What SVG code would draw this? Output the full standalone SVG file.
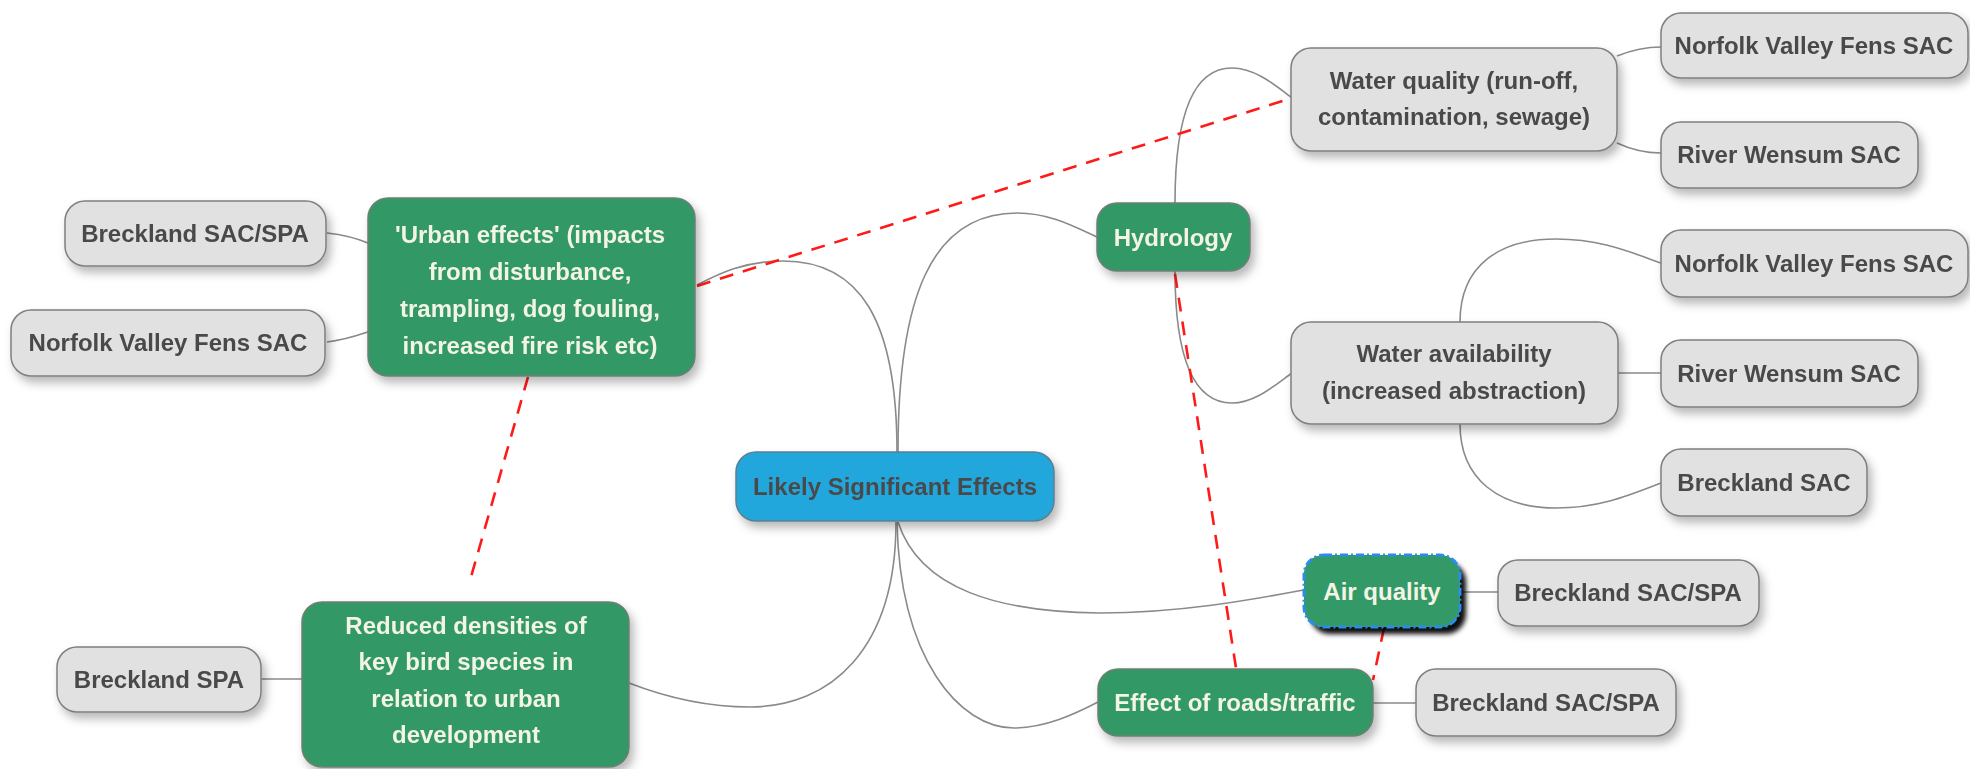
<svg xmlns="http://www.w3.org/2000/svg" width="1970" height="769" viewBox="0 0 1970 769">
<style>
.t{font-family:"Liberation Sans",Arial,sans-serif;font-weight:bold;font-size:24px;text-anchor:middle}
.g rect{fill:#e1e1e1;stroke:#7f7f7f;stroke-width:1.5}
.g text{fill:#4a4a4a}
.gr rect{fill:#339966;stroke:#6f7f74;stroke-width:1.5}
.gr text{fill:#f3f3e6}
.bl rect{fill:#22a7dd;stroke:#5f7f8f;stroke-width:1.5}
.bl text{fill:#4a4a4a}
.c{fill:none;stroke:#8a8a8a;stroke-width:1.6}
.r{fill:none;stroke:#ff1a1a;stroke-width:2.6;stroke-dasharray:14 10}
</style>
<defs>
<filter id="sh" x="-20%" y="-20%" width="140%" height="150%">
<feDropShadow dx="4" dy="6" stdDeviation="5" flood-color="#000" flood-opacity="0.28"/>
</filter>
<filter id="hs" x="-20%" y="-20%" width="140%" height="150%">
<feDropShadow dx="6" dy="7" stdDeviation="2.5" flood-color="#000" flood-opacity="0.95"/>
</filter>
</defs>
<rect width="1970" height="769" fill="#ffffff"/>
<g id="connectors">
<path class="c" d="M897 452 C897 320 860 261 783 261 C745 261 720 273 697 285"/>
<path class="c" d="M898 452 C898 300 930 213 1017 213 C1050 213 1075 227 1097 237"/>
<path class="c" d="M896 522 C896 650 830 707 750 707 C700 707 660 695 629 683"/>
<path class="c" d="M897 522 C900 660 960 728 1014 728 C1045 728 1075 714 1098 702"/>
<path class="c" d="M898 522 C920 590 1000 612 1100 613 C1180 613 1250 600 1304 590"/>
<path class="c" d="M1175 203 C1175 110 1195 68 1232 68 C1255 68 1275 85 1292 98"/>
<path class="c" d="M1175 271 C1175 360 1195 403 1232 403 C1255 403 1275 385 1292 373"/>
<path class="c" d="M1617 56 C1632 50 1645 47 1661 47"/>
<path class="c" d="M1617 143 C1632 150 1645 153 1661 153"/>
<path class="c" d="M1460 322 C1460 265 1500 239 1556 239 C1600 239 1630 252 1661 263"/>
<path class="c" d="M1618 373 L1661 373"/>
<path class="c" d="M1460 424 C1460 480 1500 508 1556 508 C1600 508 1630 495 1661 483"/>
<path class="c" d="M1460 592 L1498 592"/>
<path class="c" d="M1373 703 L1416 703"/>
<path class="c" d="M327 233 C345 235 356 238 368 243"/>
<path class="c" d="M327 342 C345 340 356 336 368 332"/>
<path class="c" d="M261 679 L302 679"/>
<path class="r" d="M697 286 L1292 98"/>
<path class="r" d="M528 377 L469 584"/>
<path class="r" d="M1175 274 L1236 668"/>
<path class="r" d="M1384 628 L1373 680"/>
</g>
<g id="n-center" class="bl" filter="url(#sh)"><rect x="736" y="452" width="318" height="69" rx="20"/><text class="t" x="895" y="495">Likely Significant Effects</text></g>
<g id="n-urban" class="gr" filter="url(#sh)"><rect x="368" y="198" width="327" height="178" rx="20"/>
<text class="t" x="530" y="243">'Urban effects' (impacts</text>
<text class="t" x="530" y="280">from disturbance,</text>
<text class="t" x="530" y="317">trampling, dog fouling,</text>
<text class="t" x="530" y="354">increased fire risk etc)</text></g>
<g id="n-urban-breck" class="g" filter="url(#sh)"><rect x="65" y="201" width="261" height="65" rx="20"/><text class="t" x="195" y="242">Breckland SAC/SPA</text></g>
<g id="n-urban-nvf" class="g" filter="url(#sh)"><rect x="11" y="310" width="314" height="66" rx="20"/><text class="t" x="168" y="351">Norfolk Valley Fens SAC</text></g>
<g id="n-reduced" class="gr" filter="url(#sh)"><rect x="302" y="602" width="327" height="165" rx="20"/>
<text class="t" x="466" y="634">Reduced densities of</text>
<text class="t" x="466" y="670">key bird species in</text>
<text class="t" x="466" y="707">relation to urban</text>
<text class="t" x="466" y="743">development</text></g>
<g id="n-breck-spa" class="g" filter="url(#sh)"><rect x="57" y="647" width="204" height="65" rx="20"/><text class="t" x="159" y="688">Breckland SPA</text></g>
<g id="n-hydro" class="gr" filter="url(#sh)"><rect x="1097" y="203" width="153" height="68" rx="20"/><text class="t" x="1173" y="246">Hydrology</text></g>
<g id="n-wq" class="g" filter="url(#sh)"><rect x="1291" y="48" width="326" height="103" rx="20"/>
<text class="t" x="1454" y="89">Water quality (run-off,</text>
<text class="t" x="1454" y="125">contamination, sewage)</text></g>
<g id="n-wq-nvf" class="g" filter="url(#sh)"><rect x="1661" y="13" width="307" height="65" rx="20"/><text class="t" x="1814" y="54">Norfolk Valley Fens SAC</text></g>
<g id="n-wq-rw" class="g" filter="url(#sh)"><rect x="1661" y="122" width="257" height="66" rx="20"/><text class="t" x="1789" y="163">River Wensum SAC</text></g>
<g id="n-wa" class="g" filter="url(#sh)"><rect x="1291" y="322" width="327" height="102" rx="20"/>
<text class="t" x="1454" y="362">Water availability</text>
<text class="t" x="1454" y="399">(increased abstraction)</text></g>
<g id="n-wa-nvf" class="g" filter="url(#sh)"><rect x="1661" y="230" width="307" height="67" rx="20"/><text class="t" x="1814" y="272">Norfolk Valley Fens SAC</text></g>
<g id="n-wa-rw" class="g" filter="url(#sh)"><rect x="1661" y="340" width="257" height="67" rx="20"/><text class="t" x="1789" y="382">River Wensum SAC</text></g>
<g id="n-wa-breck" class="g" filter="url(#sh)"><rect x="1661" y="449" width="206" height="67" rx="20"/><text class="t" x="1764" y="491">Breckland SAC</text></g>
<g id="n-air" class="gr"><rect x="1304" y="555" width="156" height="72" rx="20" filter="url(#hs)" style="stroke:none"/><rect x="1304" y="555" width="156" height="72" rx="20" style="stroke:#2b8cf0;stroke-width:3;stroke-dasharray:8 3 2 3"/><text class="t" x="1382" y="600">Air quality</text></g>
<g id="n-air-breck" class="g" filter="url(#sh)"><rect x="1498" y="560" width="261" height="66" rx="20"/><text class="t" x="1628" y="601">Breckland SAC/SPA</text></g>
<g id="n-roads" class="gr" filter="url(#sh)"><rect x="1098" y="669" width="275" height="67" rx="20"/><text class="t" x="1235" y="711">Effect of roads/traffic</text></g>
<g id="n-roads-breck" class="g" filter="url(#sh)"><rect x="1416" y="669" width="260" height="67" rx="20"/><text class="t" x="1546" y="711">Breckland SAC/SPA</text></g>
</svg>
